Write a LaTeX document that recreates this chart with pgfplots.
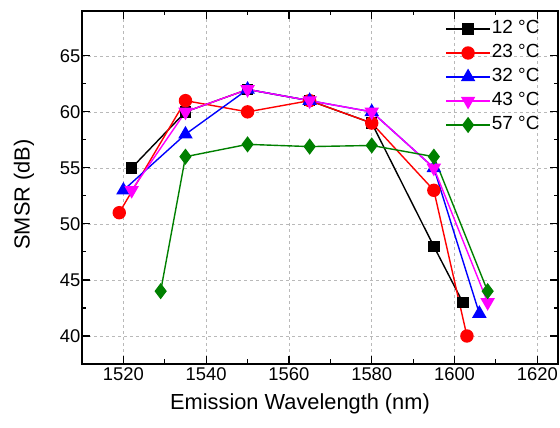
\documentclass[border=0pt]{standalone}
\usepackage{fontspec}
\setmainfont{Liberation Sans}
\usepackage{pgfplots}
\pgfplotsset{compat=1.18}
\definecolor{cgreen}{RGB}{0,128,0}
\definecolor{cred}{RGB}{255,0,0}
\definecolor{cblue}{RGB}{0,0,255}
\definecolor{cmag}{RGB}{255,0,255}
\begin{document}
\begin{tikzpicture}
\begin{axis}[
  scale only axis, width=476pt, height=353pt,
  xmin=1510, xmax=1625, ymin=37.5, ymax=69,
  xtick={1520,1540,...,1620}, ytick={40,45,...,65},
  minor x tick num=1, minor y tick num=1,
  tick align=inside,
  major tick length=8pt, minor tick length=4.5pt,
  axis line style={line width=1.3pt},
  every tick/.style={line width=1.1pt, black},
  grid=major,
  major grid style={dashed, gray!55, line width=0.6pt, dash pattern=on 3pt off 3pt},
  /pgf/number format/assume math mode=true,
  /pgf/number format/set thousands separator={},
  ticklabel style={font=\fontsize{18.4}{20}\selectfont},
  yticklabel style={xshift=2pt},
  xlabel={Emission Wavelength (nm)},
  ylabel={SMSR (dB)},
  label style={font=\fontsize{21.8}{24}\selectfont},
  xlabel style={at={(axis description cs:0.458,0)}, anchor=north, yshift=-30pt, inner sep=0pt},
  ylabel style={at={(axis description cs:-0.122,0.48)}, anchor=center, inner sep=0pt},
  legend style={draw=none, fill=none, at={(axis description cs:0.97,0.985)}, anchor=north east,
    font=\fontsize{19}{21}\selectfont, row sep=3pt,
    nodes={text height=14pt, text depth=5pt, inner sep=1pt},
    /tikz/every even column/.append style={column sep=3pt}},
  legend cell align=left,
  legend image code/.code={\draw[mark repeat=2,mark phase=2] plot coordinates {(0pt,0pt)(22pt,0pt)(44pt,0pt)};},
  every axis plot/.append style={line width=1.4pt},
]
\addplot[black, mark=square*, mark size=5pt, mark options={solid}] coordinates {
 (1522,55) (1535,60) (1550,62) (1565,61) (1580,59) (1595,48) (1602,43)};
\addlegendentry{12 °C}
\addplot[cred, mark=*, mark size=6pt] coordinates {
 (1519,51) (1535,61) (1550,60) (1565,61) (1580,59) (1595,53) (1603,40)};
\addlegendentry{23 °C}
\addplot[cblue, mark=triangle*, mark size=7pt] coordinates {
 (1520,53) (1535,58) (1550,62) (1565,61) (1580,60) (1595,55) (1606,42)};
\addlegendentry{32 °C}
\addplot[cmag, mark=triangle*, mark size=7pt, mark options={rotate=180}] coordinates {
 (1522,53) (1535,60) (1550,62) (1565,61) (1580,60) (1595,55) (1608,43)};
\addlegendentry{43 °C}
\addplot[cgreen, mark=diamond*, mark size=7pt] coordinates {
 (1529,44) (1535,56) (1550,57.1) (1565,56.9) (1580,57) (1595,56) (1608,44)};
\addlegendentry{57 °C}
\end{axis}
\pgfresetboundingbox
\path ([shift={(-82pt,-64pt)}]current axis.south west) rectangle ([shift={(2pt,11pt)}]current axis.north east);
\end{tikzpicture}
\end{document}
